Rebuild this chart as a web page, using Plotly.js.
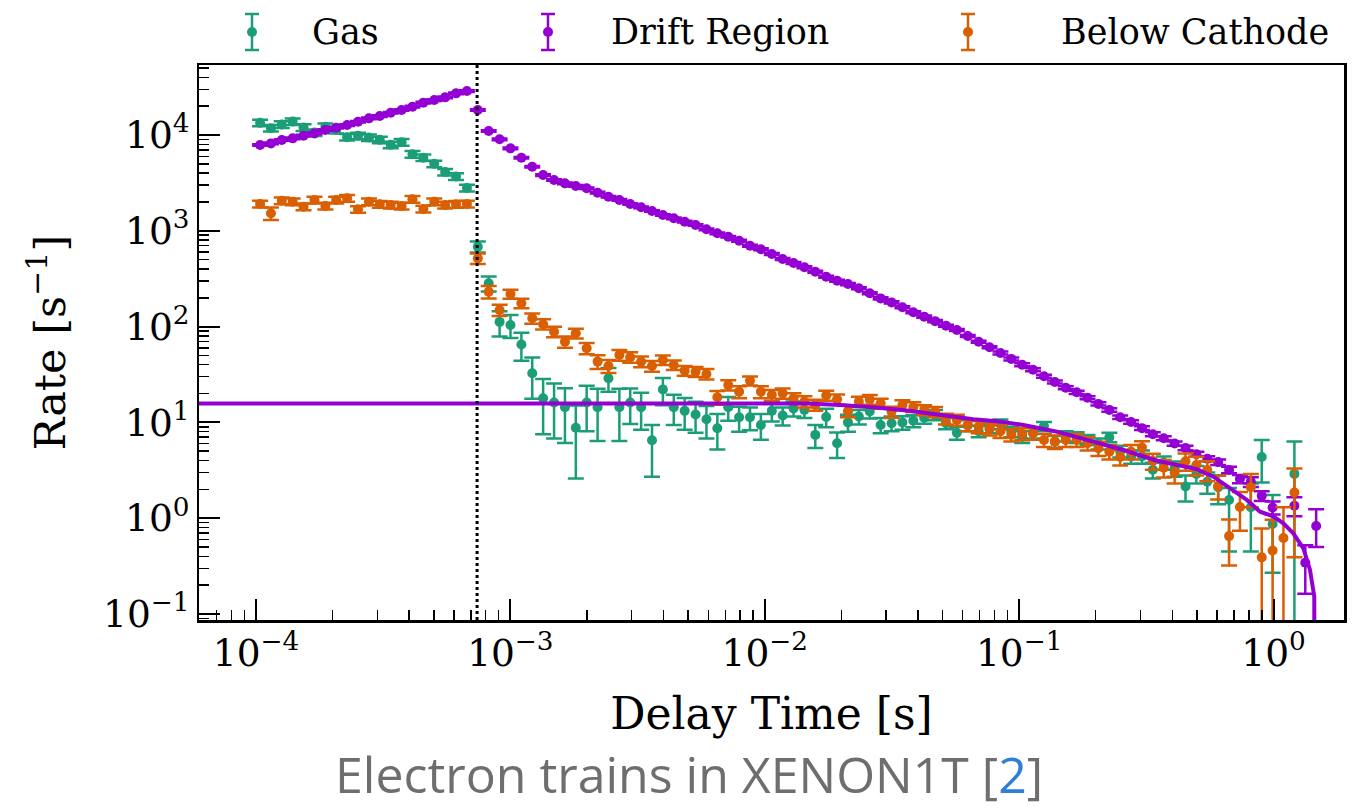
<!DOCTYPE html>
<html>
<head>
<meta charset="utf-8">
<script src="https://cdn.plot.ly/plotly-3.0.1.min.js"></script>
<style>html,body{margin:0;padding:0;background:#fff;}#chart{width:1360px;height:809px;}</style>
</head>
<body>
<div id="chart"></div>
<script>
// ---- data ----
const binCenters = [1.038e-4, 1.145e-4, 1.263e-4, 1.394e-4, 1.538e-4, 1.698e-4, 1.874e-4, 2.067e-4, 2.282e-4, 2.518e-4,
  2.780e-4, 3.067e-4, 3.385e-4, 3.736e-4, 4.123e-4, 4.550e-4, 5.021e-4, 5.541e-4, 6.115e-4, 6.748e-4,
  7.447e-4, 8.218e-4, 9.070e-4, 1.001e-3, 1.105e-3, 1.219e-3, 1.345e-3, 1.485e-3, 1.639e-3, 1.808e-3,
  1.995e-3, 2.202e-3, 2.430e-3, 2.682e-3, 2.959e-3, 3.266e-3, 3.604e-3, 3.977e-3, 4.389e-3, 4.844e-3,
  5.346e-3, 5.899e-3, 6.510e-3, 7.185e-3, 7.929e-3, 8.750e-3, 9.656e-3, 1.066e-2, 1.176e-2, 1.298e-2,
  1.432e-2, 1.580e-2, 1.744e-2, 1.925e-2, 2.124e-2, 2.344e-2, 2.587e-2, 2.855e-2, 3.151e-2, 3.477e-2,
  3.837e-2, 4.234e-2, 4.673e-2, 5.157e-2, 5.691e-2, 6.281e-2, 6.931e-2, 7.649e-2, 8.442e-2, 9.316e-2,
  0.1028, 0.1134, 0.1252, 0.1382, 0.1525, 0.1683, 0.1857, 0.2049, 0.2262, 0.2496,
  0.2754, 0.3040, 0.3354, 0.3702, 0.4085, 0.4508, 0.4975, 0.5490, 0.6058, 0.6686,
  0.7379, 0.8143, 0.8986, 0.9917, 1.094, 1.208, 1.333, 1.471];

const gasRate = [13400, 11800, 12900, 13800, 12000, 10600, 12200, 11300, 9500, 9800,
  9400, 8900, 7900, 8400, 6300, 5800, 5000, 4100, 3700, 2800,
  682, 283, 112, 104, 65, 32.6, 17.9, 16.1, 14.4, 8.8,
  16.1, 14.4, 28.9, 14.4, 16.1, 14.4, 6.5, 22.1, 14.4, 13.2,
  12.1, 10.8, 8.7, 14.4, 11.3, 11.3, 9.4, 13.2, 11.8, 14,
  13.5, 7.4, 11.4, 6.05, 10.0, 11.5, 13.0, 9.4, 9.8, 10.0,
  10.4, 11.2, 12.0, 9.8, 7.8, 9.3, 8.1, 8.8, 9.6, 8.0,
  7.1, 7.8, 9.1, 6.3, 7.2, 7.0, 6.6, 6.0, 7.0, 5.0,
  4.4, 4.4, 3.2, 3.8, 3.3, 2.14, 2.9, 2.4, 2.1, 1.55,
  null, 1.3, 4.36, 0.87, null, 2.9, null, null];
const gasErrUp = [1070, 940, 1030, 1100, 960, 850, 980, 900, 760, 780,
  750, 710, 630, 670, 500, 460, 400, 330, 300, 220,
  90, 50, 33, 28, 21, 15, 10.4, 9.3, 8.3, 6.2,
  8, 8, 8, 8, 6.5, 6, 2.9, 7, 5, 4.8,
  4.3, 4, 3.5, 4, 3.3, 3, 2.8, 3, 2.5, 2.5,
  2.4, 2, 2.5, 1.8, 2, 2, 2, 1.7, 1.7, 1.6,
  1.5, 1.5, 1.5, 1.3, 1.2, 1.2, 1.1, 1.1, 1.1, 1,
  1, 1, 1, 0.9, 0.9, 0.9, 0.8, 0.8, 0.8, 0.7,
  0.7, 0.7, 0.6, 0.6, 0.6, 0.65, 0.6, 0.6, 0.7, 0.52,
  null, 1.0, 2.2, 0.88, null, 3.4, null, null];
const gasErrDn = [1070, 940, 1030, 1100, 960, 850, 980, 900, 760, 780,
  750, 710, 630, 670, 500, 460, 400, 330, 300, 220,
  90, 50, 33, 28, 21, 15, 10.4, 9.3, 8.3, 6.2,
  8, 8, 8, 8, 6.5, 6, 3.8, 7, 5, 4.8,
  4.3, 4, 3.5, 4, 3.3, 3, 2.8, 3, 2.5, 2.5,
  2.4, 2, 2.5, 1.8, 2, 2, 2, 1.7, 1.7, 1.6,
  1.5, 1.5, 1.5, 1.3, 1.2, 1.2, 1.1, 1.1, 1.1, 1,
  1, 1, 1, 0.9, 0.9, 0.9, 0.8, 0.8, 0.8, 0.7,
  0.7, 0.7, 0.6, 0.6, 0.6, 0.65, 0.6, 0.6, 0.7, 1.1,
  null, 0.85, 2.0, 0.6, null, 2.9, null, null];

const driftRate = [7870, 8180, 8870, 9230, 9840, 10400, 11270, 11910, 12700, 13770,
  14930, 15780, 17100, 18240, 19770, 21780, 23170, 24720, 27230, 28770,
  18240, 11010, 9020, 7260, 5790, 4670, 3820, 3390, 3130, 2940,
  2780, 2500, 2270, 2100, 1905, 1760, 1610, 1463, 1350, 1245,
  1150, 1037, 942, 868, 789, 697, 641, 573, 508, 461,
  416, 374, 332, 301, 278, 251, 223, 197, 179, 159,
  141, 127, 114, 102, 92, 79.7, 69.5, 60.8, 53, 46,
  40, 35.5, 30.3, 26.4, 23.0, 20.6, 18.1, 15.6, 13.5, 11.3,
  10.1, 8.71, 7.53, 6.84, 6.01, 5.41, 4.66, 4.17, 3.85, 3.19,
  2.57, 2.40, 1.71, 1.29, null, 1.35, 0.343, 0.83];
const driftErrUp = [157, 164, 177, 185, 197, 208, 225, 238, 254, 275,
  299, 316, 342, 365, 395, 436, 463, 494, 545, 575,
  365, 220, 180, 145, 116, 93, 76, 68, 63, 59,
  56, 50, 45, 42, 38, 35, 32, 29, 27, 25,
  23, 21, 19, 17, 20, 17, 16, 14, 13, 11.5,
  10.4, 9.4, 8.3, 7.5, 7.0, 6.3, 5.6, 4.9, 4.5, 4.0,
  3.5, 3.2, 2.9, 2.6, 2.3, 2.0, 1.7, 1.5, 1.9, 1.6,
  1.4, 1.25, 1.1, 0.95, 0.85, 0.78, 0.7, 0.62, 0.55, 0.48,
  0.44, 0.4, 0.36, 0.34, 0.31, 0.3, 0.27, 0.25, 0.25, 0.25,
  0.25, 0.28, 0.2, 0.2, null, 0.3, 0.18, 0.41];
const driftErrDn = [157, 164, 177, 185, 197, 208, 225, 238, 254, 275,
  299, 316, 342, 365, 395, 436, 463, 494, 545, 575,
  365, 220, 180, 145, 116, 93, 76, 68, 63, 59,
  56, 50, 45, 42, 38, 35, 32, 29, 27, 25,
  23, 21, 19, 17, 20, 17, 16, 14, 13, 11.5,
  10.4, 9.4, 8.3, 7.5, 7.0, 6.3, 5.6, 4.9, 4.5, 4.0,
  3.5, 3.2, 2.9, 2.6, 2.3, 2.0, 1.7, 1.5, 1.9, 1.6,
  1.4, 1.25, 1.1, 0.95, 0.85, 0.78, 0.7, 0.62, 0.55, 0.48,
  0.44, 0.4, 0.36, 0.34, 0.31, 0.3, 0.27, 0.25, 0.25, 0.25,
  0.25, 0.28, 0.2, 0.2, null, 0.3, 0.18, 0.33];

const cathodeRate = [1905, 1524, 2061, 2014, 1786, 2099, 1816, 2099, 2184, 1675,
  2014, 1892, 1858, 1816, 2133, 1690, 2014, 1858, 1892, 1905,
  516, 231, 149, 219, 175, 122, 106, 88.5, 69.5, 85.1,
  59.4, 43.1, 38.8, 50.6, 47.9, 43.1, 38.8, 44.8, 39.7, 34.7,
  33.8, 32.0, 18.3, 24.5, 20.9, 27.2, 20.9, 19.3, 20.1, 17.9,
  16.5, 15.2, 19.1, 17.4, 13.1, 16.5, 17.3, 15.8, 12.9, 15.2,
  14.5, 13.5, 12.9, 10.9, 10.6, 9.4, 9.0, 8.5, 8.07, 7.4,
  7.6, 7.7, 6.55, 6.29, 6.55, 6.55, 6.05, 5.37, 4.95, 4.35,
  4.95, 5.47, 3.95, 3.36, 3.0, 3.93, 3.59, 3.18, 2.17, 0.65,
  1.31, 2.10, 0.39, 0.46, 0.62, 1.85, null, null];
const cathodeErrUp = [150, 230, 165, 160, 145, 170, 145, 170, 175, 135,
  160, 150, 150, 145, 170, 135, 160, 150, 150, 150,
  65, 34, 20, 24, 20, 15, 13, 11, 9.5, 10,
  8, 7, 6, 6.5, 6, 5.5, 5, 5, 4.5, 4,
  4, 4, 3, 3, 3, 3, 3, 2.5, 2.5, 2.3,
  2.2, 2.0, 2.3, 2.1, 1.8, 2.0, 2.0, 1.9, 1.7, 1.8,
  1.7, 1.6, 1.6, 1.4, 1.4, 1.3, 1.3, 1.2, 1.2, 1.1,
  1.1, 1.1, 1.0, 1.0, 1.0, 1.0, 0.95, 0.9, 0.85, 0.8,
  0.85, 0.9, 0.75, 0.7, 0.7, 0.8, 0.8, 0.75, 0.6, 0.32,
  0.57, 0.8, 0.39, 0.5, 0.68, 1.46, null, null];
const cathodeErrDn = [150, 230, 165, 160, 145, 170, 145, 170, 175, 135,
  160, 150, 150, 145, 170, 135, 160, 150, 150, 150,
  65, 34, 20, 24, 20, 15, 13, 11, 9.5, 10,
  8, 7, 6, 6.5, 6, 5.5, 5, 5, 4.5, 4,
  4, 4, 3, 3, 3, 3, 3, 2.5, 2.5, 2.3,
  2.2, 2.0, 2.3, 2.1, 1.8, 2.0, 2.0, 1.9, 1.7, 1.8,
  1.7, 1.6, 1.6, 1.4, 1.4, 1.3, 1.3, 1.2, 1.2, 1.1,
  1.1, 1.1, 1.0, 1.0, 1.0, 1.0, 0.95, 0.9, 0.85, 0.8,
  0.85, 0.9, 0.75, 0.7, 0.7, 0.8, 0.8, 0.75, 0.6, 0.33,
  0.57, 0.8, 0.39, 0.46, 0.62, 1.46, null, null];

const fitTime = [5e-5, 8.0e-3, 1.47e-2, 1.98e-2, 2.67e-2, 3.62e-2, 4.90e-2, 6.61e-2, 8.4e-2, 0.104,
  0.141, 0.190, 0.257, 0.348, 0.430, 0.499, 0.580, 0.675, 0.785, 0.885,
  1.0, 1.093, 1.196, 1.31, 1.391, 1.446, 1.45];
const fitRate = [15.7, 15.7, 15.7, 15.2, 14.4, 13.3, 11.9, 10.8, 10.2, 9.4,
  8.0, 6.44, 5.15, 3.98, 3.55, 3.25, 2.71, 2.05, 1.55, 1.17,
  1.04, 0.885, 0.695, 0.485, 0.288, 0.152, 0.001];

const maxDriftTime = 7.4e-4;

const seriesNames = ['Gas', 'Drift Region', 'Below Cathode'];
const seriesColors = ['#1b9e77', '#9400d3', '#d95f02'];
const captionText = 'Electron trains in XENON1T [<span style="color:#2f7ed8">2</span>]';

// ---- traces ----
function errTrace(name, y, up, dn, color) {
  return {
    type: 'scatter', mode: 'markers', name: name, x: binCenters, y: y,
    marker: {color: color, size: 10},
    error_y: {type: 'data', symmetric: false, array: up, arrayminus: dn,
      color: color, thickness: 2.5, width: 8},
    showlegend: false
  };
}
const traces = [
  errTrace(seriesNames[0], gasRate, gasErrUp, gasErrDn, seriesColors[0]),
  errTrace(seriesNames[1], driftRate, driftErrUp, driftErrDn, seriesColors[1]),
  errTrace(seriesNames[2], cathodeRate, cathodeErrUp, cathodeErrDn, seriesColors[2]),
  {type: 'scatter', mode: 'lines', name: 'fit', x: fitTime, y: fitRate,
   line: {color: seriesColors[1], width: 4}, showlegend: false}
];

// ---- layout helpers (pixel -> paper) ----
const L = 199, R = 1344, T = 65, B = 620;
const px = v => (v - L) / (R - L);
const py = v => (B - v) / (B - T);

const shapes = [{
  type: 'line', xref: 'x', yref: 'paper', x0: maxDriftTime, x1: maxDriftTime, y0: 0, y1: 1,
  line: {color: 'black', width: 3, dash: 'dot'}
}];
const annotations = [];
const legendMarkX = [252, 548, 968];
const legendTextX = [310, 609, 1059];
const legendY = 32;
for (let i = 0; i < 3; i++) {
  const c = seriesColors[i], mx = px(legendMarkX[i]);
  shapes.push({type: 'line', xref: 'paper', yref: 'paper', x0: mx, x1: mx, y0: py(14), y1: py(50), line: {color: c, width: 2.5}});
  shapes.push({type: 'line', xref: 'paper', yref: 'paper', x0: px(legendMarkX[i] - 7), x1: px(legendMarkX[i] + 7), y0: py(14), y1: py(14), line: {color: c, width: 2.5}});
  shapes.push({type: 'line', xref: 'paper', yref: 'paper', x0: px(legendMarkX[i] - 7), x1: px(legendMarkX[i] + 7), y0: py(50), y1: py(50), line: {color: c, width: 2.5}});
  shapes.push({type: 'circle', xref: 'paper', yref: 'paper', xsizemode: 'pixel', ysizemode: 'pixel',
    xanchor: mx, yanchor: py(legendY), x0: -5, x1: 5, y0: -5, y1: 5,
    fillcolor: c, line: {color: c, width: 0}});
  annotations.push({xref: 'paper', yref: 'paper', x: px(legendTextX[i]), y: py(legendY),
    xanchor: 'left', yanchor: 'middle', showarrow: false, text: seriesNames[i],
    font: {family: 'DejaVu Serif', size: 35, color: 'black'}});
}
annotations.push({xref: 'paper', yref: 'paper', x: px(689), y: py(774), xanchor: 'center', yanchor: 'middle',
  showarrow: false, text: captionText, font: {family: 'Open Sans', size: 50, color: '#6e6e6e'}});

const axisCommon = {
  type: 'log', showgrid: false, zeroline: false,
  showline: true, linecolor: 'black', linewidth: 2.5, mirror: true,
  ticks: 'inside', ticklen: 21, tickwidth: 2, tickcolor: 'black',
  tickmode: 'linear', tick0: 0, dtick: 1,
  exponentformat: 'power', showexponent: 'all',
  labelalias: {'1': '10<sup>0</sup>', '10': '10<sup>1</sup>'},
  minor: {ticks: 'inside', ticklen: 10, tickwidth: 1.5, tickcolor: 'black', dtick: 'D1', showgrid: false},
  tickfont: {family: 'DejaVu Serif', size: 30, color: 'black'}
};

const layout = {
  width: 1360, height: 809, autosize: false,
  margin: {l: L, r: 1360 - R, t: T, b: 809 - B},
  paper_bgcolor: 'white', plot_bgcolor: 'white',
  showlegend: false,
  xaxis: Object.assign({}, axisCommon, {
    range: [-4.224, 0.277],
    title: {text: 'Delay Time [s]', font: {family: 'DejaVu Serif', size: 44, color: 'black'}, standoff: 24}
  }),
  yaxis: Object.assign({}, axisCommon, {
    range: [-1.063, 4.731],
    ticklabelstandoff: 1,
    title: {text: 'Rate [s<sup>−1</sup>]', font: {family: 'DejaVu Serif', size: 43, color: 'black'}, standoff: 24}
  }),
  shapes: shapes,
  annotations: annotations
};

Plotly.newPlot('chart', traces, layout, {displayModeBar: false, staticPlot: true});
</script>
</body>
</html>
